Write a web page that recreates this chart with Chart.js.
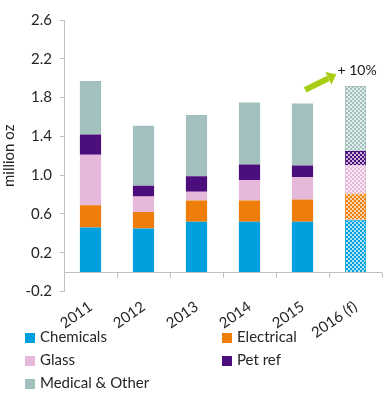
<!DOCTYPE html>
<html>
<head>
<meta charset="utf-8">
<script src="https://cdn.jsdelivr.net/npm/chart.js@4"></script>
<style>
  body { margin: 0; background: #fff; font-family: Lato, "Open Sans", sans-serif; }
  #wrap { position: relative; width: 384px; height: 395px; }
  canvas { position: absolute; left: 0; top: 0; }
  .leg { position: absolute; font-size: 15px; color: #262626; line-height: 18px; white-space: nowrap; }
  .leg i { display: inline-block; width: 10px; height: 10px; margin-right: 5px; vertical-align: -1px; }
</style>
</head>
<body>
<div id="wrap">
  <canvas id="c" width="384" height="395"></canvas>
</div>
<script>
const years = ['2011', '2012', '2013', '2014', '2015', '2016 (f)'];
const chemicals = [0.46, 0.45, 0.52, 0.52, 0.52, 0.54];
const electrical = [0.23, 0.17, 0.22, 0.22, 0.23, 0.27];
const glass = [0.52, 0.16, 0.09, 0.21, 0.23, 0.29];
const petRef = [0.21, 0.11, 0.16, 0.16, 0.12, 0.15];
const medical = [0.55, 0.62, 0.63, 0.64, 0.64, 0.67];
const yTicks = [-0.2, 0.2, 0.6, 1.0, 1.4, 1.8, 2.2, 2.6];

const series = [
    { label: 'Chemicals', data: chemicals, color: '#00A0DE' },
    { label: 'Electrical', data: electrical, color: '#EE7D0A' },
    { label: 'Glass', data: glass, color: '#E6B8D9' },
    { label: 'Pet ref', data: petRef, color: '#4B0E7C' },
    { label: 'Medical & Other', data: medical, color: '#A2C0BE' }
];

// checker fill for the forecast bar
function checker(color) {
    const t = document.createElement('canvas');
    t.width = 4; t.height = 4;
    const g = t.getContext('2d');
    g.fillStyle = color;
    g.fillRect(0, 0, 4, 4);
    g.fillStyle = 'rgba(255,255,255,0.7)';
    g.fillRect(0, 0, 2, 2);
    g.fillRect(2, 2, 2, 2);
    return g.createPattern(t, 'repeat');
}

const ctx = document.getElementById('c').getContext('2d');
const last = years.length - 1;

const zeroLine = {
    id: 'zeroLine',
    afterDatasetsDraw(chart) {
        const { ctx, scales: { x, y } } = chart;
        const py = Math.round(y.getPixelForValue(0)) + 0.5;
        ctx.save();
        ctx.strokeStyle = '#bfbfbf';
        ctx.lineWidth = 1;
        ctx.beginPath();
        ctx.moveTo(chart.chartArea.left, py);
        ctx.lineTo(chart.chartArea.right, py);
        for (let i = 1; i <= years.length; i++) {
            const px = Math.round(x.getPixelForValue(i - 0.5)) + 0.5;
            ctx.moveTo(px, py);
            ctx.lineTo(px, py + 5);
        }
        ctx.stroke();

        // growth arrow
        const x0 = x.getPixelForValue(4.05), y0 = y.getPixelForValue(1.88);
        const x1 = x.getPixelForValue(4.64), y1 = y.getPixelForValue(2.04);
        const a = Math.atan2(y1 - y0, x1 - x0);
        const hx = x1 - 9 * Math.cos(a), hy = y1 - 9 * Math.sin(a);
        ctx.strokeStyle = '#A8CE14';
        ctx.fillStyle = '#A8CE14';
        ctx.lineWidth = 6;
        ctx.beginPath();
        ctx.moveTo(x0, y0);
        ctx.lineTo(hx, hy);
        ctx.stroke();
        ctx.beginPath();
        ctx.moveTo(x1, y1);
        ctx.lineTo(hx + 7 * Math.sin(a), hy - 7 * Math.cos(a));
        ctx.lineTo(hx - 7 * Math.sin(a), hy + 7 * Math.cos(a));
        ctx.closePath();
        ctx.fill();

        ctx.fillStyle = '#1a1a1a';
        ctx.font = '14px Lato, "Open Sans", sans-serif';
        ctx.textBaseline = 'middle';
        ctx.fillText('+ 10%', x.getPixelForValue(4.66), y.getPixelForValue(2.08));
        ctx.restore();
    }
};

new Chart(ctx, {
    type: 'bar',
    data: {
        labels: years,
        datasets: series.map(s => ({
            label: s.label,
            data: s.data,
            backgroundColor: s.data.map((v, i) => i === last ? checker(s.color) : s.color),
            borderColor: s.color,
            borderWidth: s.data.map((v, i) => i === last ? 1 : 0),
            categoryPercentage: 1,
            barPercentage: 0.4
        }))
    },
    options: {
        responsive: false,
        animation: false,
        layout: { padding: { top: 20, right: 2, bottom: 47, left: 0 } },
        plugins: { legend: { display: false }, tooltip: { enabled: false } },
        scales: {
            x: {
                stacked: true,
                grid: { display: false, drawTicks: false },
                border: { display: false },
                ticks: {
                    color: '#262626',
                    font: { size: 15, family: 'Lato' },
                    minRotation: 35, maxRotation: 35,
                    padding: 6
                }
            },
            y: {
                stacked: true,
                min: -0.2,
                max: 2.6,
                afterBuildTicks(scale) { scale.ticks = yTicks.map(v => ({ value: v })); },
                grid: { drawOnChartArea: false, drawTicks: true, tickLength: 4, color: '#bfbfbf' },
                border: { color: '#bfbfbf' },
                ticks: {
                    color: '#262626',
                    font: { size: 15, family: 'Lato' },
                    padding: 8,
                    callback: v => v.toFixed(1)
                },
                title: {
                    display: true,
                    text: 'million oz',
                    color: '#262626',
                    font: { size: 15, family: 'Lato' },
                    padding: 0
                },
                afterFit(scale) { scale.width = 64; }
            }
        }
    },
    plugins: [zeroLine]
});

// legend, two columns like the original
const spots = [[25, 327], [222, 327], [25, 350], [222, 350], [25, 373]];
const wrap = document.getElementById('wrap');
series.forEach((s, i) => {
    const d = document.createElement('div');
    d.className = 'leg';
    d.style.left = spots[i][0] + 'px';
    d.style.top = spots[i][1] + 'px';
    d.innerHTML = '<i style="background:' + s.color + '"></i>' + s.label.replace('&', '&amp;');
    wrap.appendChild(d);
});
</script>
</body>
</html>
